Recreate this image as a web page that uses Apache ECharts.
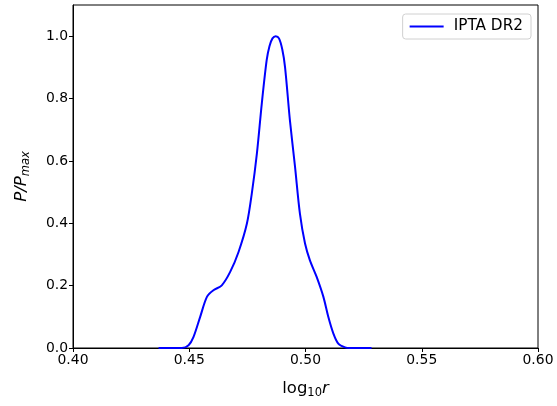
<!DOCTYPE html>
<html><head><meta charset="utf-8">
<script src="https://cdn.jsdelivr.net/npm/echarts@6/dist/echarts.min.js"></script>
<style>html,body{margin:0;padding:0;background:#fff}#c{width:557px;height:406px}</style>
</head><body><div id="c"></div>
<script>
const xValues = [0.4368,0.4468,0.4497,0.4518,0.4547,0.4576,0.4604,0.4640,0.4676,0.4712,0.4748,0.4769,0.4791,0.4812,0.4833,0.4845,0.4858,0.4872,0.4886,0.4900,0.4912,0.4933,0.4955,0.4976,0.4998,0.5019,0.5048,0.5077,0.5098,0.5120,0.5141,0.5170,0.5191,0.5284];
const yValues = [0,0,0.009,0.035,0.10,0.164,0.185,0.201,0.244,0.308,0.399,0.495,0.624,0.784,0.923,0.968,0.993,1.0,0.993,0.958,0.901,0.730,0.581,0.431,0.335,0.281,0.228,0.164,0.10,0.046,0.014,0.002,0,0];
const seriesName = 'IPTA DR2';
const xTicks = [0.40,0.45,0.50,0.55,0.60];
const yTicks = [0.0,0.2,0.4,0.6,0.8,1.0];

const chart = echarts.init(document.getElementById('c'));
const font = 'DejaVu Sans';
chart.setOption({
  animation:false,
  textStyle:{fontFamily:font},
  grid:{left:73,right:19,top:5,bottom:58,show:true,borderColor:'#000',borderWidth:1},
  legend:{
    data:[seriesName], right:26, top:14, orient:'vertical',
    borderColor:'#d0d0d0', borderWidth:1, borderRadius:3, padding:[5,8,5,7],
    itemWidth:34, itemHeight:2, icon:'rect', itemGap:8,
    textStyle:{fontFamily:font,fontSize:15.3,color:'#000',padding:[0,0,0,5]}
  },
  xAxis:{
    type:'value', min:xTicks[0], max:xTicks[xTicks.length-1], interval:0.05,
    name:'{a|log}{s|10}{i|r}', nameLocation:'middle', nameGap:31,
    nameTextStyle:{rich:{a:{fontFamily:font,fontSize:16.5,color:'#000'},s:{fontFamily:font,fontSize:11.5,color:'#000',verticalAlign:'bottom',padding:[8,0,0,0]},i:{fontFamily:font,fontSize:16.5,fontStyle:'italic',color:'#000'}}},
    axisLine:{lineStyle:{color:'#000'}},
    axisTick:{inside:false,length:4,lineStyle:{color:'#000'}},
    axisLabel:{color:'#000',fontSize:13.9,margin:5,formatter:v=>v.toFixed(2)},
    splitLine:{show:false}
  },
  yAxis:{
    type:'value', min:0, max:1.1, interval:0.2,
    name:'{i|P}{n|/}{i|P}{s|max}', nameLocation:'middle', nameGap:41,
    nameTextStyle:{rich:{i:{fontFamily:font,fontSize:16.5,fontStyle:'italic',color:'#000'},n:{fontFamily:font,fontSize:16.5,fontStyle:'italic',color:'#000'},s:{fontFamily:font,fontSize:11.5,fontStyle:'italic',color:'#000',verticalAlign:'bottom',padding:[8,0,0,0]}}},
    axisLine:{show:true,lineStyle:{color:'#000'}},
    axisTick:{show:true,inside:false,length:4,lineStyle:{color:'#000'}},
    axisLabel:{color:'#000',fontSize:13.9,margin:5,showMaxLabel:false,formatter:v=>v>1.05?'':v.toFixed(1)},
    splitLine:{show:false}
  },
  series:[{
    name:seriesName, type:'line', data:xValues.map((x,i)=>[x,yValues[i]]),
    showSymbol:false, smooth:0.3, lineStyle:{color:'#0000ff',width:2}, itemStyle:{color:'#0000ff'}
  }]
});
</script></body></html>
